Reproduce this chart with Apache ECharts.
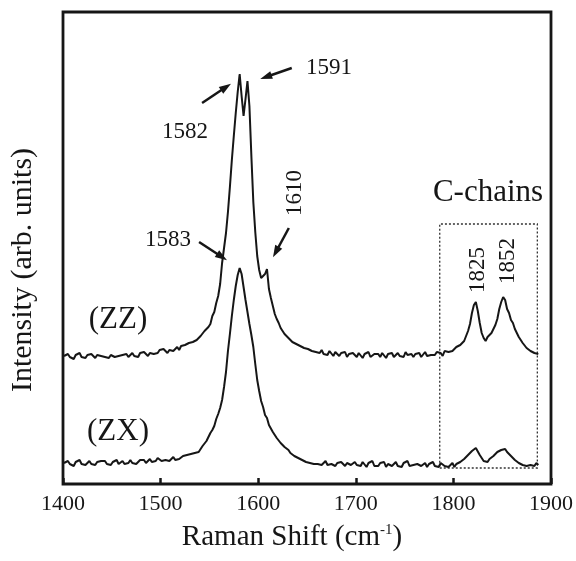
<!DOCTYPE html>
<html>
<head>
<meta charset="utf-8">
<script src="https://cdn.jsdelivr.net/npm/echarts@6/dist/echarts.min.js"></script>
<style>
html,body{margin:0;padding:0;background:#fff;}
#chart{width:576px;height:561px;}
</style>
</head>
<body>
<div id="chart"></div>
<script>
// Raman shift grid (cm^-1)
const ramanShift = [
1401,1403,1405,1407,1409,1411,1413,1415,1417,1419,
1421,1423,1425,1427,1429,1431,1433,1435,1437,1439,
1441,1443,1445,1447,1449,1451,1453,1455,1457,1459,
1461,1463,1465,1467,1469,1471,1473,1475,1477,1479,
1481,1483,1485,1487,1489,1491,1493,1495,1497,1499,
1501,1503,1505,1507,1509,1511,1513,1515,1517,1519,
1521,1523,1525,1527,1529,1531,1533,1535,1537,1539,
1541,1543,1545,1547,1549,1551,1553,1555,1557,1559,
1561,1563,1565,1567,1569,1571,1573,1575,1577,1579,
1581,1583,1585,1587,1589,1591,1593,1595,1597,1599,
1601,1603,1605,1607,1609,1611,1613,1615,1617,1619,
1621,1623,1625,1627,1629,1631,1633,1635,1637,1639,
1641,1643,1645,1647,1649,1651,1653,1655,1657,1659,
1661,1663,1665,1667,1669,1671,1673,1675,1677,1679,
1681,1683,1685,1687,1689,1691,1693,1695,1697,1699,
1701,1703,1705,1707,1709,1711,1713,1715,1717,1719,
1721,1723,1725,1727,1729,1731,1733,1735,1737,1739,
1741,1743,1745,1747,1749,1751,1753,1755,1757,1759,
1761,1763,1765,1767,1769,1771,1773,1775,1777,1779,
1781,1783,1785,1787,1789,1791,1793,1795,1797,1799,
1801,1803,1805,1807,1809,1811,1813,1815,1817,1819,
1821,1823,1825,1827,1829,1831,1833,1835,1837,1839,
1841,1843,1845,1847,1849,1851,1853,1855,1857,1859,
1861,1863,1865,1867,1869,1871,1873,1875,1877,1879,
1881,1883,1885,1887
];

// (ZZ) spectrum, arbitrary units (offset upward)
const intensityZZ = [
128,126,130,127,129,125,129,128,131,127,
128,126,129,127,130,128,126,129,127,128,
130,127,128,126,129,131,127,129,128,126,
129,128,130,127,129,131,128,130,127,131,
129,132,130,128,131,133,130,132,131,134,
132,135,133,131,134,136,133,135,137,134,
138,136,139,137,141,139,142,140,144,146,
148,150,153,152,157,160,168,172,181,188,
200,221,236,251,272,297,324,348,371,392,
410,388,368,385,403,378,328,282,252,228,
214,206,205,210,215,195,186,178,170,165,
161,156,154,150,150,146,146,142,143,140,
140,138,139,136,137,135,136,133,134,132,
133,131,134,130,132,129,133,131,128,132,
130,128,131,129,132,127,130,128,131,129,
127,131,129,126,130,128,132,127,129,130,
128,130,127,131,129,126,130,128,131,127,
129,131,128,130,127,132,129,128,130,127,
130,128,131,127,129,132,128,130,129,131,
129,132,130,131,128,133,131,132,134,133,
134,137,135,139,138,143,145,153,160,171,
179,182,173,161,151,146,143,147,147,151,
153,159,165,175,182,187,184,175,171,164,
161,155,153,147,146,141,140,136,137,133,
134,131,132,130
];

// (ZX) spectrum, arbitrary units
const intensityZX = [
21,19,23,20,22,18,22,21,24,20,
22,19,21,23,20,22,19,22,20,23,
21,23,20,22,19,22,21,24,20,22,
23,20,22,21,24,21,23,20,22,24,
22,24,21,23,25,22,24,23,26,24,
23,25,24,26,23,25,27,24,26,25,
26,28,27,29,28,30,29,31,33,32,
35,38,39,43,45,51,54,58,65,70,
76,84,97,112,133,150,168,184,198,209,
216,210,197,184,172,160,149,137,120,104,
93,83,77,69,66,59,57,52,51,46,
45,41,41,37,36,34,31,32,28,29,
26,27,24,25,22,24,21,23,20,22,
20,22,19,21,23,19,21,20,22,18,
21,19,22,20,18,21,23,19,20,22,
19,21,18,22,20,17,21,19,23,18,
20,18,21,19,22,17,20,21,18,20,
22,18,20,17,21,19,23,18,20,19,
17,20,22,18,19,21,17,20,19,22,
18,20,17,21,19,18,20,17,19,21,
17,20,19,22,21,25,24,29,30,33,
35,36,35,29,28,23,23,22,25,25,
28,28,32,31,34,33,35,32,31,28,
27,24,24,21,22,19,21,18,20,19,
20,18,21,19
];

const xTicks = [1400, 1500, 1600, 1700, 1800, 1900];

// C-chains dotted box [xFrom, xTo, yFrom, yTo]
const cChainBox = [1786, 1886, 16, 260];

// Annotation arrows: [fromX, fromY, toX, toY] in data coords
const arrows = [
  [1634.4, 416, 1607.9, 407],  // 1591
  [1542.5, 381, 1567.0, 397],  // 1582
  [1539.4, 242, 1562.9, 227],  // 1583
  [1631.4, 256, 1618.1, 232]   // 1610
];

const SERIF = '"Liberation Serif", "Times New Roman", serif';
const INK = '#161616';

const zz = ramanShift.map((x, i) => [x, intensityZZ[i]]);
const zx = ramanShift.map((x, i) => [x, intensityZX[i]]);

const chart = echarts.init(document.getElementById('chart'), null, {renderer: 'canvas'});

function txt(x, y, text, size, rot) {
  return {
    type: 'text', x: x, y: y, rotation: rot || 0, silent: true, z: 100,
    style: {
      text: text, x: 0, y: 0, fill: INK,
      font: size + 'px ' + SERIF,
      align: 'center', verticalAlign: 'middle'
    }
  };
}

const option = {
  animation: false,
  backgroundColor: '#fff',
  grid: {
    left: 63, right: 23, top: 12, bottom: 77,
    show: true, borderColor: INK, borderWidth: 2.8, backgroundColor: 'transparent'
  },
  xAxis: {
    type: 'value', min: xTicks[0], max: xTicks[xTicks.length - 1], interval: 100,
    axisLine: {show: false},
    axisTick: {show: true, inside: true, length: 6, lineStyle: {color: INK, width: 2.5}},
    splitLine: {show: false},
    axisLabel: {
      color: INK, fontFamily: SERIF, fontSize: 22, margin: 9,
      formatter: v => String(v)
    }
  },
  yAxis: {
    type: 'value', min: 0, max: 472,
    axisLine: {show: false}, axisTick: {show: false},
    axisLabel: {show: false}, splitLine: {show: false}
  },
  series: [
    {
      name: '(ZZ)', type: 'line', data: zz, showSymbol: false, symbol: 'none',
      lineStyle: {color: INK, width: 2}, silent: true,
      markLine: {
        silent: true, symbol: ['none', 'triangle'], symbolSize: [8, 12],
        lineStyle: {color: INK, width: 2.5, type: 'solid'},
        label: {show: false},
        data: arrows.map(a => [{coord: [a[0], a[1]]}, {coord: [a[2], a[3]]}])
      },
      markArea: {
        silent: true,
        itemStyle: {color: 'rgba(0,0,0,0)', borderColor: '#333', borderWidth: 1.3, borderType: [2, 2]},
        data: [[{coord: [cChainBox[0], cChainBox[2]]}, {coord: [cChainBox[1], cChainBox[3]]}]]
      }
    },
    {
      name: '(ZX)', type: 'line', data: zx, showSymbol: false, symbol: 'none',
      lineStyle: {color: INK, width: 2}, silent: true
    }
  ],
  graphic: [
    txt(329, 68, '1591', 23),
    txt(185, 132, '1582', 23),
    txt(168, 240, '1583', 23),
    txt(295, 193, '1610', 23, Math.PI / 2),
    txt(478, 270, '1825', 23, Math.PI / 2),
    txt(508, 261, '1852', 23, Math.PI / 2),
    txt(488, 193, 'C-chains', 31),
    txt(118, 320, '(ZZ)', 31),
    txt(118, 432, '(ZX)', 31),
    txt(23, 270, 'Intensity (arb. units)', 30, Math.PI / 2),
    {
      type: 'text', x: 292, y: 537, silent: true, z: 100,
      style: {
        text: '{a|Raman Shift (cm}{s|-1}{a|)}',
        x: 0, y: 0, align: 'center', verticalAlign: 'middle',
        rich: {
          a: {font: '29px ' + SERIF, fill: INK},
          s: {font: '15px ' + SERIF, fill: INK, verticalAlign: 'top'}
        }
      }
    }
  ]
};

chart.setOption(option);
</script>
</body>
</html>
